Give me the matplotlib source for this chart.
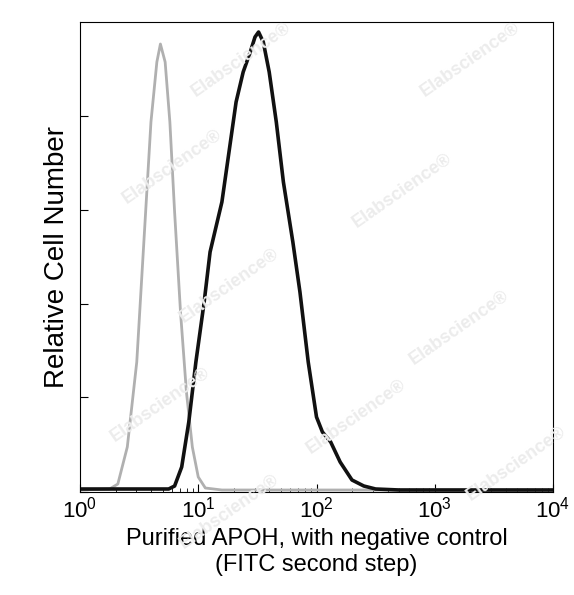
import matplotlib
matplotlib.use("Agg")
import matplotlib.pyplot as plt
import numpy as np

plt.rcParams["font.family"] = ["Liberation Sans", "DejaVu Sans"]

# log10(fluorescence) positions and relative counts
ctrl_logx = [0.0, 0.25, 0.32, 0.40, 0.48, 0.55, 0.60, 0.65, 0.68, 0.72, 0.76, 0.80, 0.85, 0.90, 0.95, 1.00, 1.06, 1.2, 4.0]
ctrl_count = [2, 3, 8, 45, 130, 270, 370, 430, 448, 430, 370, 280, 180, 100, 45, 15, 4, 2, 2]

apoh_logx = [0.0, 0.75, 0.80, 0.86, 0.92, 0.98, 1.05, 1.10, 1.14, 1.20, 1.26, 1.32, 1.38, 1.44, 1.48, 1.51, 1.55, 1.60, 1.66, 1.72, 1.80,
             1.86, 1.93, 2.00, 2.05, 2.12, 2.20, 2.30, 2.40, 2.50, 2.7, 4.0]
apoh_count = [3, 3, 6, 25, 70, 130, 190, 240, 260, 290, 340, 390, 420, 440, 455, 460, 450, 420, 370, 310, 250,
              200, 130, 75, 60, 50, 30, 12, 6, 3, 2, 2]

fig = plt.figure(figsize=(5.74, 5.95), dpi=100)
ax = fig.add_axes([80 / 574, 103 / 595, 473 / 574, 470 / 595])

for (x, y) in [(0.42, 0.90), (0.82, 0.90), (0.30, 0.72), (0.70, 0.68), (0.40, 0.52),
               (0.80, 0.45), (0.28, 0.32), (0.62, 0.30), (0.90, 0.22), (0.40, 0.14)]:
    fig.text(x, y, "Elabscience®", rotation=35, fontsize=13, fontweight="bold",
             color="#ececec", ha="center", va="center", zorder=0)

ax.patch.set_alpha(0)
ax.plot(10 ** np.array(ctrl_logx), ctrl_count, color="#b0b0b0", lw=2.0)
ax.plot(10 ** np.array(apoh_logx), apoh_count, color="#111111", lw=2.6)

ax.set_xscale("log")
ax.set_xlim(1, 1e4)
ax.set_ylim(0, 470)
ax.set_yticks([0, 95, 188, 282, 376])
ax.set_yticklabels([])
ax.tick_params(axis="both", direction="in", length=6, labelsize=16)
ax.tick_params(axis="x", which="minor", direction="in", length=3)
ax.set_ylabel("Relative Cell Number", fontsize=20)
ax.set_xlabel("Purified APOH, with negative control\n(FITC second step)", fontsize=17)

fig.savefig("out.png", dpi=100)
